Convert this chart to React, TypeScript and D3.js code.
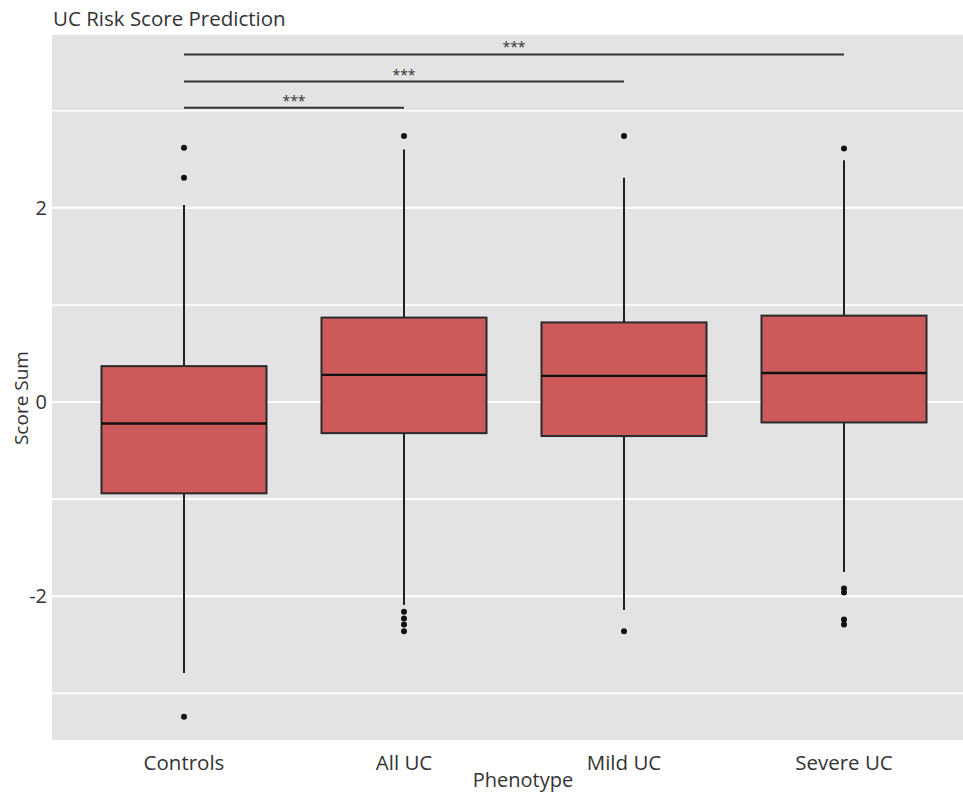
import React from "react";
import * as d3 from "d3";

// Box-plot summary statistics per phenotype (Score Sum)
const phenotypes = ["Controls", "All UC", "Mild UC", "Severe UC"];
const q1Values = [-0.94, -0.32, -0.35, -0.21];
const medianValues = [-0.22, 0.28, 0.27, 0.3];
const q3Values = [0.37, 0.87, 0.82, 0.89];
const whiskerLow = [-2.79, -2.09, -2.14, -1.75];
const whiskerHigh = [2.03, 2.6, 2.31, 2.49];
const outlierValues = [
  [2.62, 2.31, -3.24],
  [2.74, -2.16, -2.23, -2.29, -2.36],
  [2.74, -2.36],
  [2.61, -1.92, -1.96, -2.24, -2.29],
];

// Significance brackets: compared groups, bracket height, label
const sigFrom = ["Controls", "Controls", "Controls"];
const sigTo = ["All UC", "Mild UC", "Severe UC"];
const sigLevel = [3.03, 3.3, 3.58];
const sigLabel = ["***", "***", "***"];

const majorTicks = [-2, 0, 2];
const minorTicks = [-3, -1, 1, 3];

const W = 963;
const H = 796;
const panel = { left: 52, right: 976, top: 35, bottom: 740 };
const FONT = "'Open Sans', 'Noto Sans', sans-serif";

export default function App() {
  const x = d3
    .scaleBand<string>()
    .domain(phenotypes)
    .range([panel.left, panel.right])
    .paddingInner(0)
    .paddingOuter(0.1);
  const y = d3.scaleLinear().domain([-3.48, 3.78]).range([panel.bottom, panel.top]);
  const bw = x.bandwidth() * 0.75;
  const cx = (p: string) => (x(p) as number) + x.bandwidth() / 2;

  return (
    <svg
      width={W}
      height={H}
      style={{ position: "absolute", left: 0, top: 0, background: "#fff" }}
      fontFamily={FONT}
    >
      <defs>
        <clipPath id="panelClip">
          <rect x={panel.left} y={panel.top} width={W - panel.left} height={panel.bottom - panel.top} />
        </clipPath>
      </defs>
      <text x={53} y={26} fontSize={20.5} fill="#333">
        UC Risk Score Prediction
      </text>
      <g clipPath="url(#panelClip)">
        <rect
          x={panel.left}
          y={panel.top}
          width={panel.right - panel.left}
          height={panel.bottom - panel.top}
          fill="#E3E3E3"
        />
        {minorTicks.map((t) => (
          <line key={"mn" + t} x1={panel.left} x2={panel.right} y1={y(t)} y2={y(t)} stroke="#fff" strokeWidth={1.6} />
        ))}
        {majorTicks.map((t) => (
          <line key={"mj" + t} x1={panel.left} x2={panel.right} y1={y(t)} y2={y(t)} stroke="#fff" strokeWidth={2} />
        ))}
        {phenotypes.map((p, i) => {
          const c = cx(p);
          return (
            <g key={p}>
              <line x1={c} x2={c} y1={y(q3Values[i])} y2={y(whiskerHigh[i])} stroke="#222" strokeWidth={2} />
              <line x1={c} x2={c} y1={y(q1Values[i])} y2={y(whiskerLow[i])} stroke="#222" strokeWidth={2} />
              <rect
                x={c - bw / 2}
                y={y(q3Values[i])}
                width={bw}
                height={y(q1Values[i]) - y(q3Values[i])}
                fill="#CD5A5A"
                stroke="#2a2a2a"
                strokeWidth={2}
              />
              <line
                x1={c - bw / 2}
                x2={c + bw / 2}
                y1={y(medianValues[i])}
                y2={y(medianValues[i])}
                stroke="#111"
                strokeWidth={2.4}
              />
              {outlierValues[i].map((v, j) => (
                <circle key={j} cx={c} cy={y(v)} r={3} fill="#111" />
              ))}
            </g>
          );
        })}
        {sigLevel.map((lv, i) => {
          const a = cx(sigFrom[i]);
          const b = cx(sigTo[i]);
          return (
            <g key={"sig" + i}>
              <line x1={a} x2={b} y1={y(lv)} y2={y(lv)} stroke="#333" strokeWidth={2} />
              <text x={(a + b) / 2} y={y(lv) - 2} textAnchor="middle" fontSize={14} fill="#333">
                {sigLabel[i]}
              </text>
            </g>
          );
        })}
      </g>
      {majorTicks.map((t) => (
        <text key={"yl" + t} x={47} y={y(t)} dy="0.35em" textAnchor="end" fontSize={20} fill="#333">
          {t}
        </text>
      ))}
      {phenotypes.map((p) => (
        <text key={"xl" + p} x={cx(p)} y={770} textAnchor="middle" fontSize={20.5} fill="#333">
          {p}
        </text>
      ))}
      <text x={523} y={787} textAnchor="middle" fontSize={20} fill="#333">
        Phenotype
      </text>
      <text
        transform={`translate(28, ${y(0) - 4}) rotate(-90)`}
        textAnchor="middle"
        fontSize={19}
        fill="#333"
      >
        Score Sum
      </text>
    </svg>
  );
}
